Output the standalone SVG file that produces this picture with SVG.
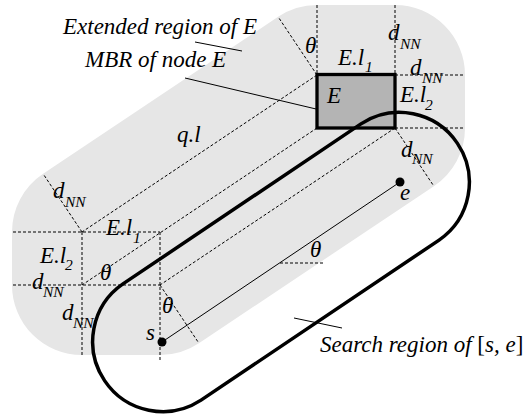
<svg xmlns="http://www.w3.org/2000/svg" width="530" height="417" viewBox="0 0 530 417">
<style>
.t{font-family:'Liberation Serif','Times New Roman',serif;font-style:italic;font-size:23px;fill:#000}
.sub{font-size:15.5px}
.up{font-style:normal}
.dash{fill:none;stroke:#000;stroke-width:1;stroke-dasharray:3,2}
.thin{fill:none;stroke:#000;stroke-width:1}
</style>
<rect width="530" height="417" fill="#fff"/>
<g id="extended-region">
<path d="M317,5 L395,5 A70,70 0 0 1 465,75 L465,128 A70,70 0 0 1 433.89,186.21 L198.89,343.21 A70,70 0 0 1 160,355 L82,355 A70,70 0 0 1 12,285 L12,232 A70,70 0 0 1 43.11,173.79 L278.11,16.79 A70,70 0 0 1 317,5 Z" fill="#e6e6e6"/>
</g>
<g id="connectors">
<path class="dash" d="M317,5 V75 M395,5 V75 M395,75 H465 M395,128 H465 M317,75 L278.11,16.79 M395,128 L433.89,186.21 M317,75 L82,232 M317,128 L82,285 M395,128 L160,285 M13,232 H160 M13,285 H160 M82,232 V356 M160,232 V362 M82,232 L43.11,173.79 M160,285 L198.89,343.21 M280,263 H323"/>
<line class="thin" x1="162" y1="342" x2="400" y2="182"/>
<line class="thin" x1="195" y1="42" x2="242" y2="51"/>
<line class="thin" x1="185" y1="78" x2="333" y2="113"/>
<line class="thin" x1="294" y1="318" x2="342" y2="328"/>
</g>
<g id="mbr-E">
<rect x="317" y="74.5" width="78" height="53.5" fill="#b4b4b4" stroke="#000" stroke-width="3.3"/>
<text class="t" x="327" y="103">E</text>
</g>
<g id="search-region">
<path d="M122.95,283.91 L360.95,123.91 A70,70 0 0 1 439.05,240.09 L201.05,400.09 A70,70 0 0 1 122.95,283.91 Z" fill="none" stroke="#000" stroke-width="3.5"/>
</g>
<g id="point-s">
<circle cx="162" cy="342" r="4.5" fill="#000"/>
<text class="t" x="146" y="340">s</text>
</g>
<g id="point-e">
<circle cx="400" cy="182" r="4.5" fill="#000"/>
<text class="t" x="400" y="200">e</text>
</g>
<g id="labels">
<text class="t" x="63" y="34">Extended region of E</text>
<text class="t" x="85" y="67">MBR of node E</text>
<text class="t" x="177" y="142">q.l</text>
<text class="t" x="388" y="40">d</text><text class="t sub" x="400" y="49">NN</text>
<text class="t" x="410" y="75">d</text><text class="t sub" x="422" y="83">NN</text>
<text class="t" x="401" y="157">d</text><text class="t sub" x="412" y="164">NN</text>
<text class="t" x="53" y="198">d</text><text class="t sub" x="65" y="207">NN</text>
<text class="t" x="32" y="289">d</text><text class="t sub" x="43" y="297">NN</text>
<text class="t" x="62" y="320">d</text><text class="t sub" x="73" y="328">NN</text>
<text class="t" x="305" y="53">θ</text>
<text class="t" x="100" y="280">θ</text>
<text class="t" x="162" y="313">θ</text>
<text class="t" x="310" y="257">θ</text>
<text class="t" x="338" y="65">E.l</text><text class="t sub" x="365" y="72">1</text>
<text class="t" x="400" y="102">E.l</text><text class="t sub" x="425" y="110">2</text>
<text class="t" x="106" y="235">E.l</text><text class="t sub" x="133" y="243">1</text>
<text class="t" x="40" y="263">E.l</text><text class="t sub" x="65" y="270">2</text>
<text class="t" x="320" y="352">Search region of <tspan class="up">[</tspan>s, e<tspan class="up">]</tspan></text>
</g>
</svg>
